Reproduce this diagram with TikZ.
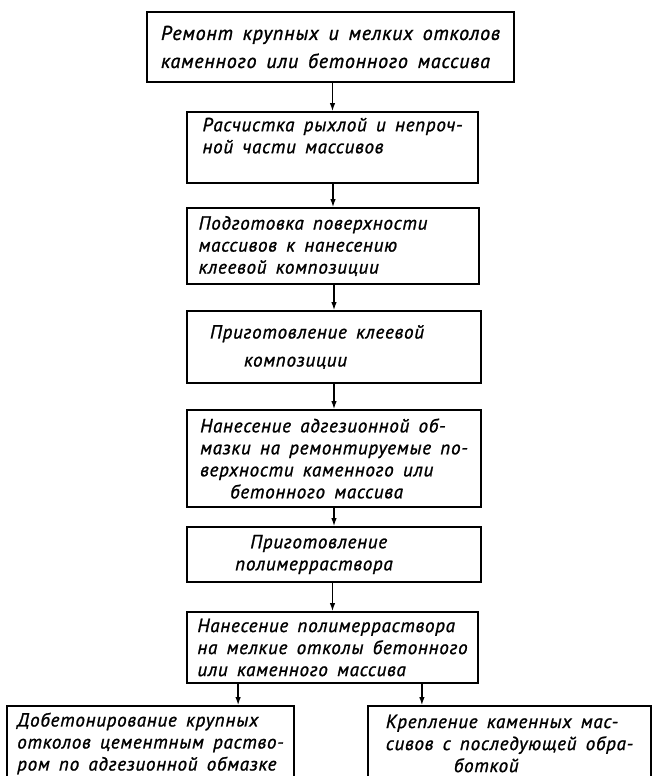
\documentclass[tikz,border=0pt]{standalone}
\usepackage{fontspec}
\setmainfont{PT Sans}
\newfontfamily\gostfont{PT Sans Italic}[LetterSpace=4,WordSpace=1.6,FakeBold=1.2]
\usetikzlibrary{arrows.meta}

\begin{document}
\begin{tikzpicture}[x=1pt, y=-1pt,
  blk/.style={draw, line width=1.8pt, align=left, inner sep=0pt,
    font=\gostfont\fontsize{19}{22}\selectfont},
  arr/.style={-{Latex[length=8pt,width=5.5pt]}, line width=1.3pt}]
\clip (0,0) rectangle (654,776);
% main column
\node[blk, minimum width=367pt, minimum height=70pt, font=\gostfont\fontsize{20}{23}\selectfont] (b1) at (330.5,47)
  {Ремонт крупных и мелких отколов\\[5pt]каменного или бетонного массива};
\node[blk, minimum width=291pt, minimum height=71pt] (b2) at (332.5,147.5)
  {Расчистка рыхлой и непроч-\\ной части массивов\\[2pt]};
\node[blk, minimum width=292pt, minimum height=76pt] (b3) at (333,246)
  {Подготовка поверхности\hspace*{40pt}\\массивов к нанесению\\клеевой композиции};
\node[blk, minimum width=294pt, minimum height=72pt] (b4) at (334,347)
  {Приготовление клеевой\hspace*{34pt}\\[6pt]\hspace*{34pt}композиции};
\node[blk, minimum width=294pt, minimum height=97pt] (b5) at (334,458.5)
  {Нанесение адгезионной об-\\мазки на ремонтируемые по-\\верхности каменного или\\\hspace*{30pt}бетонного массива};
\node[blk, minimum width=294pt, minimum height=55pt] (b6) at (334,554.5)
  {\hspace*{15pt}Приготовление\\полимерраствора\hspace*{40pt}};
\node[blk, minimum width=291pt, minimum height=71pt] (b7) at (332.5,647.5)
  {Нанесение полимерраствора\\на мелкие отколы бетонного\\или каменного массива};
% bottom row
\node[blk, minimum width=287pt, minimum height=75pt] (b8) at (150.5,743.5)
  {Добетонирование крупных\\отколов цементным раство-\\ром по адгезионной обмазке};
\node[blk, minimum width=283pt, minimum height=75pt] (b9) at (509.5,743.5)
  {Крепление каменных мас-\\сивов с последующей обра-\\\hspace*{68pt}боткой};
\draw[arr] (b1.south -| b2.north) -- (b2.north);
\draw[arr] (b2.south -| b3.north) -- (b3.north);
\draw[arr] (b3.south -| b4.north) -- (b4.north);
\draw[arr] (b4.south -| b5.north) -- (b5.north);
\draw[arr] (b5.south -| b6.north) -- (b6.north);
\draw[arr] (b6.south -| b7.north) -- (b7.north);
\draw[arr] ([xshift=52pt]b7.south west) -- ([xshift=52pt]b7.south west |- b8.north);
\draw[arr] ([xshift=-57pt]b7.south east) -- ([xshift=-57pt]b7.south east |- b9.north);
\end{tikzpicture}
\end{document}
